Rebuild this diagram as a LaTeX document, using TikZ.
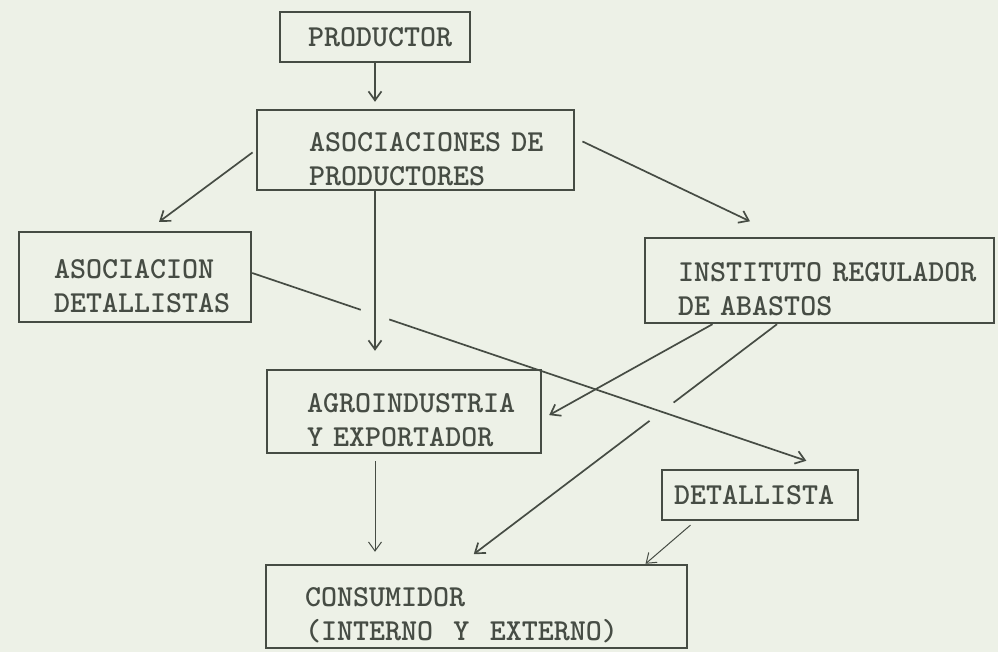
\documentclass[tikz,border=0pt]{standalone}
\usetikzlibrary{arrows.meta,intersections}
\definecolor{paper}{RGB}{237,241,231}
\definecolor{ink}{RGB}{70,76,68}
\newcommand{\tallstrut}{\rule{0pt}{37pt}}
\hyphenpenalty=10000
\begin{document}
\begin{tikzpicture}[x=1pt,y=-1pt,>={Straight Barb[length=9pt,width=13pt]},
    box/.style={draw=ink,line width=2.4pt,inner ysep=0pt,align=left,text=ink,
      font=\ttfamily\bfseries\fontsize{30.5}{34}\selectfont},
    arr/.style={->,draw=ink,line width=1.7pt},
    thinarr/.style={->,draw=ink,line width=1pt}]
        \useasboundingbox (0,0) rectangle (998,652);
        \fill[paper] (0,0) rectangle (998,652);

        % The boxes of the chain
        \node[box,text width=134pt,inner xsep=28pt,minimum height=50pt] (prod) at (375,37) {PRODUCTOR};
        \node[box,text width=213pt,inner xsep=52pt,minimum height=80pt] (asocprod) at (415.5,150) {\tallstrut ASOCIACIONES~DE\\PRODUCTORES};
        \node[box,text width=162pt,inner xsep=35pt,minimum height=90pt] (asocdet) at (135,277) {\tallstrut ASOCIACION\\DETALLISTAS};
        \node[box,text width=283pt,inner xsep=33pt,minimum height=85pt] (inst) at (819.5,280.5) {\tallstrut INSTITUTO~REGULADOR\\DE~ABASTOS};
        \node[box,text width=194pt,inner xsep=40pt,minimum height=83pt] (agro) at (404,411.5) {\tallstrut AGROINDUSTRIA\\Y~EXPORTADOR};
        \node[box,text width=172pt,inner xsep=12pt,minimum height=50pt] (det) at (760,495) {DETALLISTA};
        \node[box,text width=343pt,inner xsep=39pt,minimum height=83pt] (cons) at (476.5,606.5) {\tallstrut CONSUMIDOR\\(INTERNO\ \ Y\ \ EXTERNO)};

        % Arrows out of the producers
        \draw[arr,shorten >=7pt] (prod) -- (prod |- asocprod.north);
        \draw[arr,shorten <=4pt,shorten >=15pt] (asocprod.west) -- ([xshift=12pt]asocdet.north);
        \draw[arr,shorten <=8pt,shorten >=36pt] ([yshift=12pt]asocprod.east) -- ([xshift=-37pt]inst.north);

        % Arrows out of the institute
        \draw[arr,shorten >=8pt] ([xshift=-107pt]inst.south) -- ([yshift=-7.5pt]agro.east);
        \draw[arr,name path=instcons,shorten >=16pt] ([xshift=-42.5pt]inst.south) -- ([xshift=-15.5pt]cons.north);

        % The long arrow jumps over the other lines
        \path[name path=detline] ([yshift=4pt]asocdet.east) -- ([xshift=70pt]det.north);
        \fill[paper,name intersections={of=detline and instcons}] (intersection-1) circle (15pt);
        \draw[arr,shorten >=25pt] ([yshift=4pt]asocdet.east) -- ([xshift=70pt]det.north);
        \path[name path=midline] (asocprod.south -| prod) -- (agro.north -| prod);
        \fill[paper,name intersections={of=detline and midline}] (intersection-1) circle (15pt);
        \draw[arr,shorten >=18pt] (asocprod.south -| prod) -- (agro.north -| prod);

        % Down to the consumer
        \draw[thinarr,shorten <=7pt,shorten >=12pt] (agro.south -| prod) -- (cons.north -| prod);
        \draw[thinarr,shorten <=6pt] ([xshift=-65pt]det.south) -- ([xshift=169pt]cons.north);
\end{tikzpicture}
\end{document}
